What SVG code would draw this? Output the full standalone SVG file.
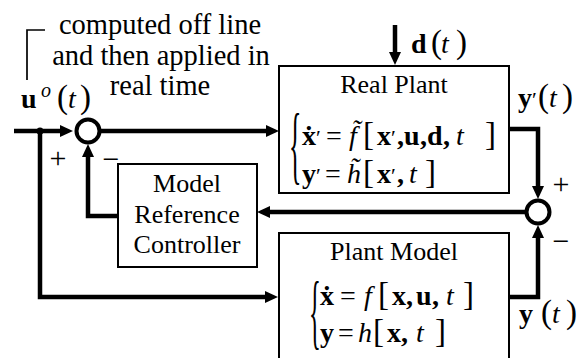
<svg xmlns="http://www.w3.org/2000/svg" width="585" height="358" viewBox="0 0 585 358" font-family="'Liberation Serif', 'Times New Roman', 'DejaVu Serif', serif">
<defs>
<marker id="ah" markerUnits="userSpaceOnUse" markerWidth="14" markerHeight="12" refX="5" refY="6" orient="auto"><path d="M0,0 L13,6 L0,12 z" fill="#000"/></marker>
<style>
text{font-family:'Liberation Serif','Times New Roman','DejaVu Serif',serif;fill:#000}
.lbl{font-size:26px;text-anchor:middle}
.ann{font-size:28.5px;text-anchor:middle}
.m{font-size:28px}
.b{font-weight:bold}
.i{font-style:italic}
.pr{font-weight:normal;font-size:22px}
.br{font-size:33px}
.pm{font-size:30px;text-anchor:middle}
.box{fill:#fff;stroke:#000;stroke-width:2}
.conn{fill:none;stroke:#000;stroke-width:4.5;stroke-linejoin:miter}
.sum{fill:#fff;stroke:#000;stroke-width:4}
.thin{fill:none;stroke:#000;stroke-width:1.7}
</style>
</defs>
<rect width="585" height="358" fill="#fff"/>

<g id="note">
<path class="thin" d="M45,30 H27 V80"/>
<text class="ann" x="160" y="34">computed off line</text>
<text class="ann" x="161" y="65">and then applied in</text>
<text class="ann" x="160" y="95">real time</text>
</g>

<g id="connectors">
<path class="conn" d="M14,131 H65" marker-end="url(#ah)"/>
<path class="conn" d="M40,131 V297 H270" marker-end="url(#ah)"/>
<path class="conn" d="M100,131 H271" marker-end="url(#ah)"/>
<path class="conn" d="M395,25 V57" marker-end="url(#ah)"/>
<path class="conn" d="M509,129 H538 V191" marker-end="url(#ah)"/>
<path class="conn" d="M509,297 H538 V233" marker-end="url(#ah)"/>
<path class="conn" d="M525,212 H265" marker-end="url(#ah)"/>
<path class="conn" d="M118,216 H88 V152" marker-end="url(#ah)"/>
<circle cx="40" cy="131" r="3.5" fill="#000"/>
</g>

<g id="input-label">
<text class="m" y="108"><tspan class="b" x="21">u</tspan><tspan class="i" x="41" y="97" font-size="20">o</tspan><tspan class="br" x="57" y="108">(</tspan><tspan class="i" x="68">t</tspan><tspan class="br" x="80">)</tspan></text>
</g>

<g id="sum1">
<circle class="sum" cx="88" cy="131" r="11.5"/>
<text class="pm" x="58" y="168">+</text>
<text class="pm" x="111" y="169">−</text>
</g>

<g id="sum2">
<circle class="sum" cx="538" cy="212" r="11.5"/>
<text class="pm" x="561" y="194">+</text>
<text class="pm" x="561" y="251">−</text>
</g>

<g id="disturbance">
<text class="m" y="53"><tspan class="b" x="411">d</tspan><tspan class="br" x="431">(</tspan><tspan class="i" x="441" y="53">t</tspan><tspan class="br" x="456">)</tspan></text>
</g>

<g id="controller">
<rect class="box" x="118" y="164" width="139" height="103"/>
<text class="lbl" x="187" y="192">Model</text>
<text class="lbl" x="187" y="223">Reference</text>
<text class="lbl" x="187" y="253">Controller</text>
</g>

<g id="real-plant">
<rect class="box" x="279" y="66" width="230" height="127"/>
<text class="lbl" x="394" y="93">Real Plant</text>
<text transform="translate(289,173) scale(0.3,1)" font-size="86">{</text>
<text class="m" y="145"><tspan class="b" x="302">ẋ</tspan><tspan class="pr" x="316">′</tspan><tspan x="326">=</tspan><tspan class="i" x="349">f̃</tspan><tspan class="br" x="363">[</tspan><tspan class="b" x="377">x</tspan><tspan class="pr" x="391">′</tspan><tspan class="b" x="397">,</tspan><tspan class="b" x="404">u</tspan><tspan class="b" x="420">,</tspan><tspan class="b" x="427">d</tspan><tspan class="b" x="443">,</tspan><tspan class="i" x="456">t</tspan><tspan class="br" x="485">]</tspan></text>
<text class="m" y="183"><tspan class="b" x="302">y</tspan><tspan class="pr" x="316">′</tspan><tspan x="325">=</tspan><tspan class="i" x="347">h̃</tspan><tspan class="br" x="363">[</tspan><tspan class="b" x="377">x</tspan><tspan class="pr" x="391">′</tspan><tspan class="b" x="397">,</tspan><tspan class="i" x="409">t</tspan><tspan class="br" x="425">]</tspan></text>
</g>

<g id="real-output-label">
<text class="m" y="107"><tspan class="b" x="518">y</tspan><tspan class="pr" x="532">′</tspan><tspan class="br" x="538">(</tspan><tspan class="i" x="549">t</tspan><tspan class="br" x="562">)</tspan></text>
</g>

<g id="plant-model">
<rect class="box" x="279" y="233" width="230" height="130"/>
<text class="lbl" x="394" y="260">Plant Model</text>
<text transform="translate(309,339) scale(0.3,1)" font-size="82">{</text>
<text class="m" y="305"><tspan class="b" x="320">ẋ</tspan><tspan x="340">=</tspan><tspan class="i" x="364">f</tspan><tspan class="br" x="378">[</tspan><tspan class="b" x="392">x</tspan><tspan class="b" x="406">,</tspan><tspan class="b" x="416">u</tspan><tspan class="b" x="432">,</tspan><tspan class="i" x="446">t</tspan><tspan class="br" x="463">]</tspan></text>
<text class="m" y="342"><tspan class="b" x="320">y</tspan><tspan x="338">=</tspan><tspan class="i" x="358">h</tspan><tspan class="br" x="373">[</tspan><tspan class="b" x="387">x</tspan><tspan class="b" x="401">,</tspan><tspan class="i" x="416">t</tspan><tspan class="br" x="435">]</tspan></text>
</g>

<g id="model-output-label">
<text class="m" y="323"><tspan class="b" x="519">y</tspan><tspan class="br" x="541">(</tspan><tspan class="i" x="552">t</tspan><tspan class="br" x="566">)</tspan></text>
</g>
</svg>
